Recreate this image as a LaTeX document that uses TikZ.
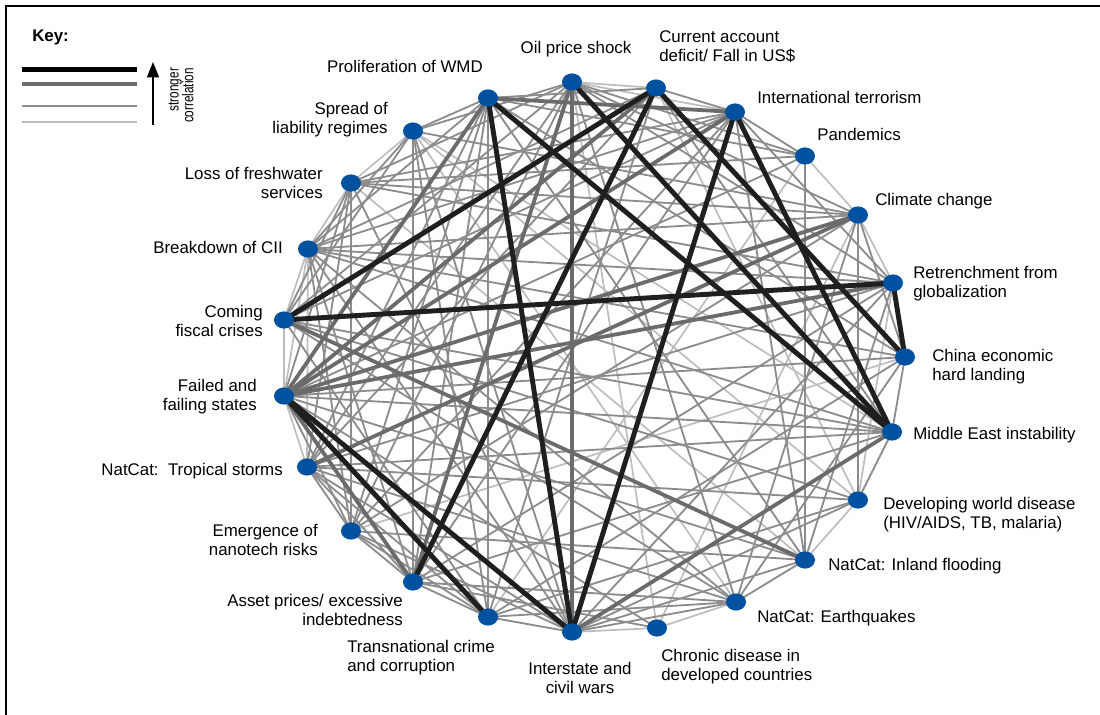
\documentclass[tikz,border=0pt]{standalone}
\usepackage{fontspec}
\setmainfont{Liberation Sans}
\newfontfamily\keyfont{Liberation Sans}[FakeStretch=0.76]
\usetikzlibrary{shapes.geometric,backgrounds,arrows.meta}

\definecolor{dotblue}{RGB}{0,82,160}
\definecolor{midgray}{gray}{0.42}
\definecolor{weakgray}{gray}{0.55}
\definecolor{faintgray}{gray}{0.74}

\tikzset{
  dot/.style={ellipse, fill=dotblue, minimum width=0.5cm, minimum height=0.43cm, inner sep=0pt},
  lbl/.style={font=\fontsize{12}{13.5}\selectfont, inner sep=0pt},
  strong/.style={line width=3.5pt, black!88},
  medium/.style={line width=2.7pt, midgray},
  weak/.style={line width=1.3pt, weakgray},
  faint/.style={line width=1.2pt, faintgray}
}

\begin{document}
\begin{tikzpicture}[x=0.025cm, y=-0.025cm]
  \useasboundingbox (0,0) rectangle (1100,715);
  \draw[line width=1.4pt] (6,715) |- (1100,6);

  % key
  \node (keyhead) [lbl, font=\bfseries\fontsize{12}{13}\selectfont, anchor=west] at (32,37) {Key:};
  \draw[strong, black] (22,69.5) -- (137,69.5);
  \draw[medium] (22,84) -- (137,84);
  \draw[line width=1pt, weakgray] (22,106) -- (137,106);
  \draw[line width=1pt, faintgray] (22,122) -- (137,122);
  \draw[line width=1.3pt, -{Triangle[length=11pt,width=8.5pt]}] (153,125) -- (153,62);
  \node (keytext) [rotate=90, font=\keyfont\fontsize{11}{10.5}\selectfont, align=right, inner sep=0pt] at (181,95.5) {stronger\\correlation};

  % risks
  \node (oil) [dot] at (572,82) {};
  \node (cad) [dot] at (656,88) {};
  \node (terr) [dot] at (735,112) {};
  \node (pand) [dot] at (805,156) {};
  \node (clim) [dot] at (858,215) {};
  \node (retr) [dot] at (893,283) {};
  \node (china) [dot] at (905,357) {};
  \node (mideast) [dot] at (892,432) {};
  \node (devdis) [dot] at (858,500) {};
  \node (flood) [dot] at (805,560) {};
  \node (quake) [dot] at (736,602) {};
  \node (chronic) [dot] at (657,628) {};
  \node (wars) [dot] at (572,632) {};
  \node (crime) [dot] at (488,617) {};
  \node (asset) [dot] at (413,582) {};
  \node (nano) [dot] at (351,531) {};
  \node (storms) [dot] at (307,467) {};
  \node (failed) [dot] at (284,396) {};
  \node (fiscal) [dot] at (284,320) {};
  \node (cii) [dot] at (308,249) {};
  \node (water) [dot] at (351,183) {};
  \node (liab) [dot] at (413,131) {};
  \node (wmd) [dot] at (488,98) {};

  % labels
  \node (oil-t) [lbl] at (576,49) {Oil price shock};
  \node (cad-t) [lbl, anchor=west, align=left] at (659,47) {Current account\\deficit/ Fall in US\$};
  \node (terr-t) [lbl, anchor=west] at (757,97) {International terrorism};
  \node (pand-t) [lbl, anchor=west] at (817,134.5) {Pandemics};
  \node (clim-t) [lbl, anchor=west] at (875,201) {Climate change};
  \node (retr-t) [lbl, anchor=west, align=left] at (913,283.5) {Retrenchment from\\globalization};
  \node (china-t) [lbl, anchor=west, align=left] at (932,366.5) {China economic\\hard landing};
  \node (mideast-t) [lbl, anchor=west] at (913,435) {Middle East instability};
  \node (devdis-t) [lbl, anchor=west, align=left] at (883,514.5) {Developing world disease\\(HIV/AIDS, TB, malaria)};
  \node (flood-t) [lbl, anchor=west] at (828,566.5) {NatCat: Inland flooding};
  \node (quake-t) [lbl, anchor=west] at (757,618.5) {NatCat: Earthquakes};
  \node (chronic-t) [lbl, anchor=west, align=left] at (661,666.5) {Chronic disease in\\developed countries};
  \node (wars-t) [lbl, align=center] at (580,677.5) {Interstate and\\civil wars};
  \node (crime-t) [lbl, anchor=west, align=left] at (347,657.5) {Transnational crime\\and corruption};
  \node (asset-t) [lbl, anchor=east, align=right] at (403,610) {Asset prices/ excessive\\indebtedness};
  \node (nano-t) [lbl, anchor=east, align=right] at (318,539.5) {Emergence of\\nanotech risks};
  \node (storms-t) [lbl, anchor=east] at (283,471.5) {NatCat:\ \ Tropical storms};
  \node (failed-t) [lbl, anchor=east, align=right] at (257,396.5) {Failed and\\failing states};
  \node (fiscal-t) [lbl, anchor=east, align=right] at (263,321) {Coming\\fiscal crises};
  \node (cii-t) [lbl, anchor=east] at (283,247.5) {Breakdown of CII};
  \node (water-t) [lbl, anchor=east, align=right] at (323,182.5) {Loss of freshwater\\services};
  \node (liab-t) [lbl, anchor=east, align=right] at (388,119.5) {Spread of\\liability regimes};
  \node (wmd-t) [lbl, anchor=east] at (483,66) {Proliferation of WMD};

  % correlations
  \begin{scope}[on background layer]
    \foreach \a/\b in {oil/cad, oil/terr, pand/clim, clim/retr, devdis/flood, chronic/wars,
        quake/chronic, failed/fiscal, storms/cii, fiscal/cii, cii/water, water/liab,
        storms/failed, failed/cii, oil/chronic, clim/chronic, retr/devdis, flood/water,
        devdis/liab, cad/devdis, pand/crime, china/nano, quake/liab, mideast/liab}
      \draw[faint] (\a.center) -- (\b.center);
    \foreach \a/\b in {oil/pand, oil/clim, oil/retr, oil/fiscal, oil/storms, oil/nano,
        oil/quake, oil/liab, oil/water, cad/terr, cad/wmd, cad/cii, cad/storms, cad/crime,
        cad/mideast, terr/pand, terr/water, terr/cii, terr/fiscal, terr/nano, terr/asset,
        terr/flood, terr/retr, pand/water, pand/failed, pand/flood, pand/wmd, clim/china,
        clim/devdis, clim/water, clim/cii, clim/nano, clim/quake, clim/liab, retr/water,
        retr/cii, retr/storms, retr/asset, retr/wars, retr/flood, china/mideast,
        china/failed, china/cii, china/crime, china/quake, china/wmd, mideast/devdis,
        mideast/fiscal, mideast/failed, mideast/storms, mideast/asset, mideast/cii,
        devdis/storms, devdis/fiscal, devdis/crime, devdis/wars, flood/quake, flood/nano,
        flood/failed, flood/wmd, flood/wars, quake/wars, quake/crime, quake/asset,
        quake/storms, quake/fiscal, quake/cii, chronic/asset, chronic/failed, wars/crime,
        wars/nano, wars/storms, wars/cii, wars/water, wars/liab, crime/asset, crime/nano,
        crime/storms, crime/fiscal, crime/liab, crime/wmd, asset/nano, asset/storms,
        asset/cii, asset/liab, nano/storms, nano/failed, nano/cii, nano/water,
        storms/water, failed/water, fiscal/water, fiscal/liab, cii/liab, liab/wmd,
        wmd/storms, wmd/nano, wmd/asset, wmd/cii}
      \draw[weak] (\a.center) -- (\b.center);
    \foreach \a/\b in {oil/wars, wmd/terr, clim/failed, clim/storms, terr/failed,
        mideast/wars, wmd/failed, oil/asset, fiscal/flood, failed/retr, failed/asset, cad/failed}
      \draw[medium] (\a.center) -- (\b.center);
    \foreach \a/\b in {wmd/wars, wmd/mideast, oil/mideast, cad/china, cad/fiscal, cad/asset,
        terr/wars, terr/mideast, retr/fiscal, retr/china, failed/crime, failed/wars}
      \draw[strong] (\a.center) -- (\b.center);
  \end{scope}
\end{tikzpicture}
\end{document}
